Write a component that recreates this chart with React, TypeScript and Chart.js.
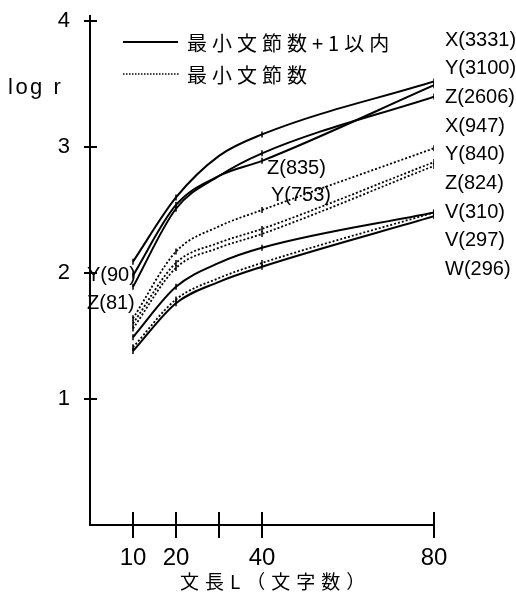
import React, { useEffect, useRef } from 'react';
import { Chart, registerables } from 'chart.js';

Chart.register(...registerables);

// ---- data ----
const lengths = [10, 20, 30, 40, 80];
const xTicks = [10, 20, 30, 40, 80];
const xTickLabels = ['10', '20', '', '40', '80'];
const yTicks = [1, 2, 3, 4];

// 最小文節数+1以内 (solid)
const solidX = [2.09, 2.6, 2.93, 3.1, 3.52];
const solidY = [1.98, 2.54, 2.77, 2.89, 3.49];
const solidZ = [1.89, 2.51, 2.77, 2.95, 3.4];
// 最小文節数 (dotted)
const dotX = [1.64, 2.17, 2.37, 2.5, 2.99];
const dotY = [1.6, 2.08, 2.24, 2.35, 2.88];
const dotZ = [1.56, 2.04, 2.2, 2.31, 2.85];
// lower group
const lowV310 = [1.49, 1.89, 2.08, 2.2, 2.48];
const lowV297 = [1.41, 1.79, 1.96, 2.08, 2.48];
const lowW296 = [1.38, 1.76, 1.93, 2.05, 2.45];

const rightLabels = ['X(3331)', 'Y(3100)', 'Z(2606)', 'X(947)', 'Y(840)', 'Z(824)', 'V(310)', 'V(297)', 'W(296)'];
const leftLabels = ['Y(90)', 'Z(81)'];
const midLabels = ['Z(835)', 'Y(753)'];
const legendLabels = ['最小文節数+1以内', '最小文節数'];
const xTitle = '文長L（文字数）';
const yTitle = 'log r';

const LATIN = "'Liberation Sans', Arial, Helvetica, sans-serif";
const CJK = "'Noto Sans CJK JP', 'Noto Sans CJK SC', sans-serif";

function setSpacing(ctx: any, v: string) {
  if ('letterSpacing' in ctx) ctx.letterSpacing = v;
}

const decorPlugin = {
  id: 'decor',
  afterDraw(chart: any) {
    const ctx = chart.ctx;
    const xs = chart.scales.x;
    const ys = chart.scales.y;
    const area = chart.chartArea;
    ctx.save();
    ctx.strokeStyle = '#000';
    ctx.fillStyle = '#000';
    ctx.lineWidth = 2;
    // crossing tick marks
    xTicks.forEach((v) => {
      const px = xs.getPixelForValue(v);
      ctx.beginPath();
      ctx.moveTo(px, area.bottom - 13);
      ctx.lineTo(px, area.bottom + 13);
      ctx.stroke();
    });
    yTicks.forEach((v) => {
      const py = ys.getPixelForValue(v);
      ctx.beginPath();
      ctx.moveTo(area.left - 6, py);
      ctx.lineTo(area.left + 7, py);
      ctx.stroke();
    });
    // extend y axis slightly above top
    ctx.beginPath();
    ctx.moveTo(area.left, area.top - 6);
    ctx.lineTo(area.left, area.top + 2);
    ctx.stroke();

    // legend
    const lx0 = area.left + 33;
    const lx1 = area.left + 88;
    const ly1 = area.top + 21;
    const ly2 = area.top + 53;
    ctx.lineWidth = 2;
    ctx.setLineDash([]);
    ctx.beginPath();
    ctx.moveTo(lx0, ly1);
    ctx.lineTo(lx1, ly1);
    ctx.stroke();
    ctx.lineWidth = 1.6;
    ctx.setLineDash([1.5, 1.5]);
    ctx.beginPath();
    ctx.moveTo(lx0, ly2);
    ctx.lineTo(lx1 + 2, ly2);
    ctx.stroke();
    ctx.setLineDash([]);
    ctx.font = `20px ${CJK}`;
    ctx.textBaseline = 'middle';
    ctx.textAlign = 'left';
    setSpacing(ctx, '5px');
    ctx.fillText(legendLabels[0], lx1 + 9, ly1 + 1);
    ctx.fillText(legendLabels[1], lx1 + 9, ly2 + 1);

    // x title
    ctx.font = `19px ${CJK}`;
    setSpacing(ctx, '6px');
    ctx.textAlign = 'left';
    ctx.fillText(xTitle, 180, area.bottom + 57);

    // y title
    ctx.font = `22px ${LATIN}`;
    setSpacing(ctx, '2.5px');
    ctx.fillText(yTitle, 8, ys.getPixelForValue(3.47));

    // right labels
    setSpacing(ctx, '0px');
    ctx.font = `20px ${LATIN}`;
    const rx = xs.getPixelForValue(80) + 11;
    const ry0 = ys.getPixelForValue(4) + 19;
    rightLabels.forEach((t, i) => {
      ctx.fillText(t, rx, ry0 + i * 28.7);
    });
    // left labels
    const lyA = ys.getPixelForValue(solidY[0]);
    leftLabels.forEach((t, i) => {
      ctx.fillText(t, area.left - 3, lyA + i * 28);
    });
    // middle labels
    const mx = xs.getPixelForValue(40) + 5;
    const myA = ys.getPixelForValue(solidZ[3]) + 15;
    midLabels.forEach((t, i) => {
      ctx.fillText(t, mx + i * 4, myA + i * 27);
    });
    ctx.restore();
  },
};

function mk(label: string, data: number[], dash: number[], width: number) {
  return {
    label,
    data: lengths.map((x, i) => ({ x, y: data[i] })),
    borderColor: '#000',
    backgroundColor: '#000',
    borderWidth: width,
    borderDash: dash,
    pointStyle: 'line',
    pointRotation: 90,
    pointRadius: (c: any) => (c.raw && c.raw.x === 30 ? 0 : 3),
    pointBorderWidth: 1.5,
    pointBorderColor: '#000',
    cubicInterpolationMode: 'monotone',
    fill: false,
  };
}

export default function App() {
  const ref = useRef<HTMLCanvasElement>(null);
  useEffect(() => {
    if (!ref.current) return;
    const chart = new Chart(ref.current, {
      type: 'line',
      data: {
        datasets: [
          mk('X+1', solidX, [], 2),
          mk('Y+1', solidY, [], 2),
          mk('Z+1', solidZ, [], 2),
          mk('X', dotX, [2, 2], 1.8),
          mk('Y', dotY, [2, 2], 1.8),
          mk('Z', dotZ, [2, 2], 1.8),
          mk('V310', lowV310, [], 2),
          mk('V297', lowV297, [2, 2], 1.8),
          mk('W296', lowW296, [], 2),
        ] as any,
      },
      options: {
        animation: false,
        responsive: false,
        events: [],
        layout: { padding: { top: 21, right: 82, left: 0, bottom: 0 } },
        plugins: { legend: { display: false }, tooltip: { enabled: false } },
        scales: {
          x: {
            type: 'linear',
            min: 0,
            max: 80,
            afterFit: (s: any) => {
              s.height = 69;
              s.paddingLeft = 0;
              s.paddingRight = 0;
            },
            afterBuildTicks: (s: any) => {
              s.ticks = xTicks.map((v) => ({ value: v }));
            },
            grid: { display: false, drawTicks: false },
            border: { display: true, color: '#000', width: 2 },
            ticks: {
              padding: 19,
              color: '#000',
              font: { family: LATIN, size: 24 },
              maxRotation: 0,
              autoSkip: false,
              callback: (v: any) => {
                const i = xTicks.indexOf(Number(v));
                return i >= 0 ? xTickLabels[i] : '';
              },
            },
          },
          y: {
            type: 'linear',
            min: 0,
            max: 4,
            afterFit: (s: any) => {
              s.width = 90;
              s.paddingTop = 0;
              s.paddingBottom = 0;
            },
            afterBuildTicks: (s: any) => {
              s.ticks = yTicks.map((v) => ({ value: v }));
            },
            grid: { display: false, drawTicks: false },
            border: { display: true, color: '#000', width: 2 },
            ticks: {
              padding: 20,
              color: '#000',
              font: { family: LATIN, size: 22 },
              callback: (v: any) => String(v),
            },
          },
        },
      },
      plugins: [decorPlugin],
    } as any);
    return () => chart.destroy();
  }, []);
  return (
    <div style={{ position: 'absolute', left: 0, top: 0, width: 516, height: 594, background: '#fff' }}>
      <canvas ref={ref} width={516} height={594} style={{ display: 'block' }} />
    </div>
  );
}
